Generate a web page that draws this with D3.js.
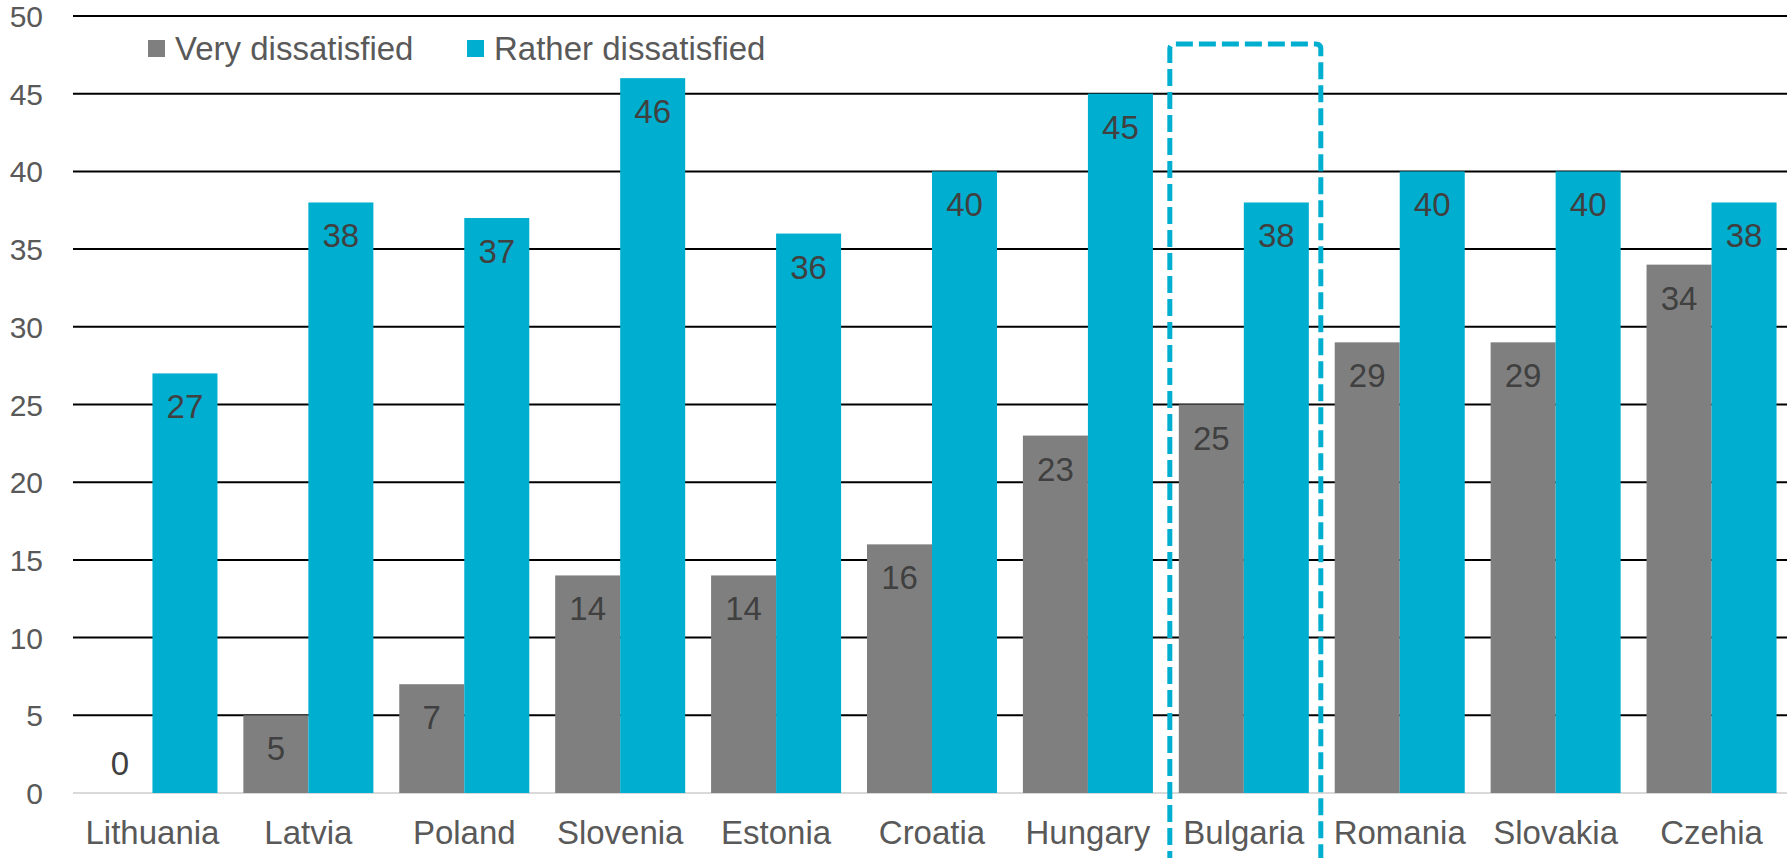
<!DOCTYPE html>
<html>
<head>
<meta charset="utf-8">
<script src="https://cdn.jsdelivr.net/npm/d3@7"></script>
<style>
  html, body { margin: 0; padding: 0; background: #fff; }
  svg { display: block; font-family: "Liberation Sans", Arial, sans-serif; }
</style>
</head>
<body>
<svg id="chart" width="1787" height="858"></svg>
<script>
// Share of respondents dissatisfied, by country (%)
const countries = ["Lithuania", "Latvia", "Poland", "Slovenia", "Estonia", "Croatia",
                   "Hungary", "Bulgaria", "Romania", "Slovakia", "Czehia"];
const veryDissatisfied   = [0, 5, 7, 14, 14, 16, 23, 25, 29, 29, 34];
const ratherDissatisfied = [27, 38, 37, 46, 36, 40, 45, 38, 40, 40, 38];
const seriesNames = ["Very dissatisfied", "Rather dissatisfied"];
const yTicks = [0, 5, 10, 15, 20, 25, 30, 35, 40, 45, 50];
const highlighted = "Bulgaria";

(function draw() {
  const colors = ["#7f7f7f", "#00aed0"];
  const W = 1787, H = 858;
  const svg = d3.select("#chart");

  const y = d3.scaleLinear().domain([0, 50]).range([793, 16]);
  const x = d3.scaleBand().domain(countries).range([74.5, 1789.5])
    .paddingInner(0.166).paddingOuter(0.083);
  const xs = d3.scaleBand().domain([0, 1]).range([0, x.bandwidth()]);

  // horizontal gridlines
  svg.append("g").selectAll("line").data(yTicks).join("line")
    .attr("x1", 73).attr("x2", W)
    .attr("y1", d => y(d)).attr("y2", d => y(d))
    .attr("stroke", d => d === 0 ? "#d9d9d9" : "#000")
    .attr("stroke-width", 2);

  // y tick labels
  svg.append("g").selectAll("text").data(yTicks).join("text")
    .attr("x", 43).attr("y", d => y(d) + 11)
    .attr("text-anchor", "end")
    .attr("font-size", 30).attr("fill", "#595959")
    .text(d => d);

  // bars
  const rows = countries.map((c, i) => ({ c, vals: [veryDissatisfied[i], ratherDissatisfied[i]] }));
  const groups = svg.append("g").selectAll("g").data(rows).join("g")
    .attr("transform", d => `translate(${x(d.c)},0)`);

  groups.selectAll("rect").data(d => d.vals.map((v, k) => ({ v, k }))).join("rect")
    .attr("x", d => xs(d.k))
    .attr("width", xs.bandwidth())
    .attr("y", d => y(d.v))
    .attr("height", d => y(0) - y(d.v))
    .attr("fill", d => colors[d.k]);

  // value labels, inside the bar end
  groups.selectAll("text").data(d => d.vals.map((v, k) => ({ v, k }))).join("text")
    .attr("x", d => xs(d.k) + xs.bandwidth() / 2)
    .attr("y", d => d.v === 0 ? y(0) - 18 : y(d.v) + 45)
    .attr("text-anchor", "middle")
    .attr("font-size", 33).attr("fill", "#404040")
    .text(d => d.v);

  // category labels
  svg.append("g").selectAll("text").data(countries).join("text")
    .attr("x", d => x(d) + x.bandwidth() / 2)
    .attr("y", 844)
    .attr("text-anchor", "middle")
    .attr("font-size", 33).attr("fill", "#595959")
    .text(d => d);

  // legend
  const legendItems = [
    { name: seriesNames[0], color: colors[0], sx: 148, tx: 175 },
    { name: seriesNames[1], color: colors[1], sx: 467, tx: 494 }
  ];
  const lg = svg.append("g");
  lg.selectAll("rect").data(legendItems).join("rect")
    .attr("x", d => d.sx).attr("y", 40).attr("width", 17).attr("height", 17)
    .attr("fill", d => d.color);
  lg.selectAll("text").data(legendItems).join("text")
    .attr("x", d => d.tx).attr("y", 60)
    .attr("font-size", 33).attr("fill", "#595959")
    .text(d => d.name);

  // dashed outline around the highlighted country
  const cx = x(highlighted) + x.bandwidth() / 2;
  const bx0 = cx - 74, bx1 = cx + 77, by0 = y(48.2), r = 5, by1 = H + 10;
  const outline = d3.path();
  outline.moveTo(bx0, by1);
  outline.lineTo(bx0, by0 + r);
  outline.quadraticCurveTo(bx0, by0, bx0 + r, by0);
  outline.lineTo(bx1 - r, by0);
  outline.quadraticCurveTo(bx1, by0, bx1, by0 + r);
  outline.lineTo(bx1, by1);
  svg.append("path")
    .attr("d", outline.toString())
    .attr("fill", "none")
    .attr("stroke", colors[1])
    .attr("stroke-width", 5)
    .attr("stroke-dasharray", "17,6");
})();
</script>
</body>
</html>
